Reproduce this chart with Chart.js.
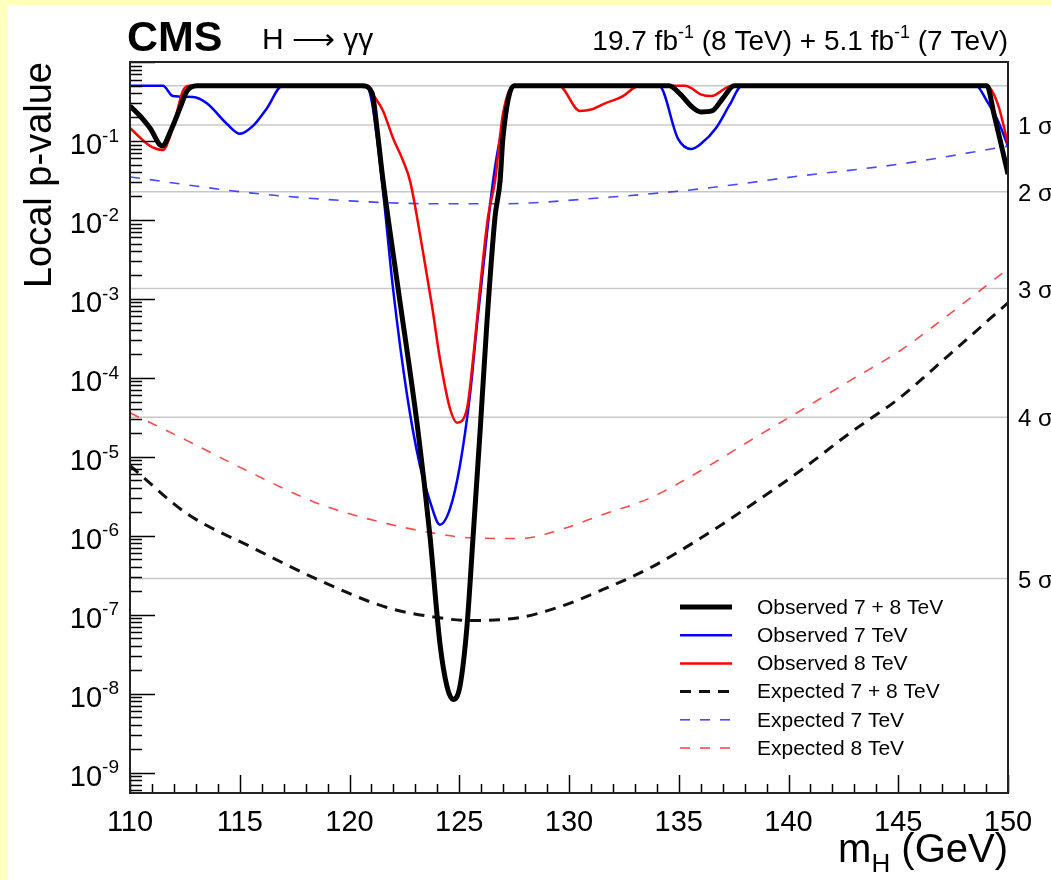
<!DOCTYPE html>
<html>
<head>
<meta charset="utf-8">
<script src="https://cdn.jsdelivr.net/npm/chart.js@4.4.1/dist/chart.umd.min.js"></script>
<style>
html, body { margin: 0; padding: 0; width: 1051px; height: 880px; overflow: hidden; background: #ffffc0; }
#wrap { position: absolute; left: 8px; top: 5px; width: 1043px; height: 875px; background: #fff; }
canvas { display: block; }
</style>
</head>
<body>
<div id="wrap"><canvas id="pvalChart" width="1043" height="875"></canvas></div>
<script>
// ---- data (mH in GeV, local p-value) ----
const obs78Mass = [110, 110.46, 110.91, 111.46, 111.91, 112.28, 112.6, 113.05, 120.57, 121.03, 121.25, 121.53, 122.21, 123.12, 123.67, 124.12, 124.44, 124.72, 125.03, 125.35, 125.63, 125.95, 126.26, 126.63, 126.86, 126.99, 127.49, 134.56, 135.06, 135.56, 136.01, 136.51, 137.02, 137.52, 149.04, 149.36, 149.68, 150];
const obs78P = [0.277, 0.207, 0.146, 0.0865, 0.146, 0.262, 0.43, 0.5, 0.5, 0.405, 0.146, 0.0312, 1.38e-3, 2.13e-5, 9.6e-7, 4.3e-8, 1.23e-8, 8.4e-9, 1.23e-8, 7.0e-8, 9.7e-7, 2.1e-5, 4.97e-4, 0.0109, 0.031, 0.109, 0.5, 0.5, 0.394, 0.277, 0.233, 0.24, 0.35, 0.5, 0.5, 0.22, 0.092, 0.038];

const obs7Mass = [110, 111.5, 111.96, 112.87, 113.5, 114.42, 115.01, 115.6, 116.24, 116.95, 120.75, 121.03, 121.48, 121.98, 122.62, 123.21, 123.67, 124.12, 124.58, 125.03, 125.49, 125.81, 126.26, 126.54, 126.9, 127.49, 134.1, 134.97, 135.56, 136.01, 136.7, 137.33, 137.88, 148.54, 149.04, 149.54, 150];
const obs7P = [0.5, 0.5, 0.37, 0.36, 0.30, 0.164, 0.123, 0.155, 0.26, 0.5, 0.5, 0.3, 0.031, 1.38e-3, 6.1e-5, 7.7e-6, 2.7e-6, 1.38e-6, 2.2e-6, 7.7e-6, 6.1e-5, 4.8e-4, 6.7e-3, 0.031, 0.123, 0.5, 0.5, 0.106, 0.079, 0.092, 0.146, 0.29, 0.5, 0.5, 0.32, 0.18, 0.086];

const obs8Mass = [110, 110.91, 111.5, 111.91, 112.41, 112.7, 120.85, 121.07, 121.53, 121.98, 122.44, 122.76, 123.35, 123.76, 124.12, 124.58, 124.9, 125.35, 125.63, 125.95, 126.31, 126.63, 126.99, 127.49, 129.54, 130.5, 131.0, 131.64, 132.46, 132.96, 133.2, 135.3, 135.56, 136.0, 136.5, 137.15, 137.4, 149.04, 149.54, 150];
const obs8P = [0.146, 0.0865, 0.077, 0.134, 0.43, 0.5, 0.5, 0.39, 0.24, 0.109, 0.056, 0.031, 3.9e-3, 8.1e-4, 1.74e-4, 4.05e-5, 2.7e-5, 4.05e-5, 1.74e-4, 1.38e-3, 0.0109, 0.031, 0.22, 0.5, 0.5, 0.24, 0.25, 0.30, 0.37, 0.47, 0.5, 0.5, 0.47, 0.39, 0.37, 0.47, 0.5, 0.5, 0.29, 0.092];

const expMass = [110, 112.6, 115.6, 118.66, 121.71, 123.99, 125.49, 127.77, 129.59, 131.41, 133.69, 135.97, 138.25, 140.52, 142.8, 145.08, 147.36, 150];
const exp78P = [7.7e-6, 1.9e-6, 7.0e-7, 2.7e-7, 1.23e-7, 9.2e-8, 8.4e-8, 9.2e-8, 1.26e-7, 2.0e-7, 3.9e-7, 9.2e-7, 2.4e-6, 6.6e-6, 2.0e-5, 5.6e-5, 2.0e-4, 8.9e-4];
const exp8P = [3.6e-5, 1.6e-5, 6.1e-6, 2.5e-6, 1.42e-6, 1.06e-6, 9.4e-7, 9.2e-7, 1.19e-6, 1.8e-6, 3.0e-6, 6.6e-6, 1.6e-5, 3.8e-5, 9.2e-5, 2.2e-4, 6.5e-4, 2.4e-3];

const exp7Mass = [110, 115.47, 120.02, 124.12, 126.86, 131.41, 135.97, 140.52, 145.08, 150];
const exp7P = [0.035, 0.022, 0.0174, 0.016, 0.016, 0.019, 0.0247, 0.036, 0.051, 0.086];

// significance reference lines (0..5 sigma, one-sided)
const sigmaP = [0.5, 0.1587, 0.02275, 1.35e-3, 3.167e-5, 2.867e-7];
const sigmaLabels = ['', '1 σ', '2 σ', '3 σ', '4 σ', '5 σ'];

const xTicks = [110, 115, 120, 125, 130, 135, 140, 145, 150];
const yTickExps = [-1, -2, -3, -4, -5, -6, -7, -8, -9];
const legendNames = ['Observed 7 + 8 TeV', 'Observed 7 TeV', 'Observed 8 TeV', 'Expected 7 + 8 TeV', 'Expected 7 TeV', 'Expected 8 TeV'];

const FONT = "'Liberation Sans', Arial, Helvetica, sans-serif";

function pts(m, p) { return m.map((v, i) => ({ x: v, y: p[i] })); }

// draws text runs with super/subscripts: segs = [[text, 0|1|-1], ...]
function drawRun(ctx, segs, x, y, size, align, weight) {
  const w = weight || '';
  const sub = Math.round(size * 0.64);
  const widths = segs.map(s => { ctx.font = w + ' ' + (s[1] ? sub : size) + 'px ' + FONT; return ctx.measureText(s[0]).width; });
  const total = widths.reduce((a, b) => a + b, 0);
  let cx = align === 'right' ? x - total : align === 'center' ? x - total / 2 : x;
  ctx.textAlign = 'left';
  ctx.textBaseline = 'alphabetic';
  segs.forEach((s, i) => {
    ctx.font = w + ' ' + (s[1] ? sub : size) + 'px ' + FONT;
    const dy = s[1] === 1 ? -size * 0.42 : s[1] === -1 ? size * 0.25 : 0;
    ctx.fillText(s[0], cx, y + dy);
    cx += widths[i];
  });
}

const rootStyle = {
  id: 'rootStyle',
  afterDraw(chart) {
    const ctx = chart.ctx;
    const a = chart.chartArea;
    const xs = chart.scales.x, ys = chart.scales.y;
    ctx.save();
    ctx.fillStyle = '#000';
    ctx.strokeStyle = '#000';

    // ticks (inside the frame, ROOT style)
    ctx.lineWidth = 1.5;
    ctx.beginPath();
    for (let m = 110; m <= 150; m++) {
      const px = Math.round(xs.getPixelForValue(m)) + 0.5;
      const len = m % 5 === 0 ? 18 : 9;
      ctx.moveTo(px, a.bottom);
      ctx.lineTo(px, a.bottom - len);
    }
    for (let e = -10; e <= 0; e++) {
      for (let k = 1; k <= 9; k++) {
        const v = k * Math.pow(10, e);
        if (v < ys.min || v > ys.max) continue;
        const py = Math.round(ys.getPixelForValue(v)) + 0.5;
        const len = k === 1 ? 25 : 12;
        ctx.moveTo(a.left, py);
        ctx.lineTo(a.left + len, py);
      }
    }
    ctx.stroke();

    // frame
    ctx.lineWidth = 2;
    ctx.strokeStyle = '#222';
    ctx.strokeRect(a.left, a.top, a.right - a.left, a.bottom - a.top);

    // x tick labels
    xTicks.forEach(t => drawRun(ctx, [[String(t), 0]], xs.getPixelForValue(t), a.bottom + 38, 29, 'center'));
    // y tick labels
    yTickExps.forEach(e => {
      const py = ys.getPixelForValue(Math.pow(10, e));
      drawRun(ctx, [['10', 0], [String(e), 1]], a.left - 11, py + 13, 29, 'right');
    });

    // axis titles
    drawRun(ctx, [['m', 0], ['H', -1], [' (GeV)', 0]], a.right, a.bottom + 69, 40, 'right');
    ctx.save();
    ctx.translate(43, a.top);
    ctx.rotate(-Math.PI / 2);
    ctx.font = '38px ' + FONT;
    ctx.textAlign = 'right';
    ctx.textBaseline = 'alphabetic';
    ctx.fillText('Local p-value', 0, 0);
    ctx.restore();

    // sigma labels
    sigmaP.forEach((p, i) => {
      if (!sigmaLabels[i]) return;
      const py = ys.getPixelForValue(p);
      drawRun(ctx, [[sigmaLabels[i], 0]], a.right + 10, py + 9, 24, 'left');
    });

    // header
    drawRun(ctx, [['CMS', 0]], 119, 46, 43, 'left', 'bold');
    drawRun(ctx, [['H ⟶ γγ', 0]], 254, 44, 30, 'left');
    drawRun(ctx, [['19.7 fb', 0], ['-1', 1], [' (8 TeV) + 5.1 fb', 0], ['-1', 1], [' (7 TeV)', 0]], a.right, 45, 28, 'right');

    // legend
    const rowY0 = 602, rowStep = 28.2;
    chart.data.datasets.filter(d => d.inLegend).forEach((d, i) => {
      const y = rowY0 + i * rowStep;
      ctx.save();
      ctx.strokeStyle = d.borderColor;
      ctx.lineWidth = d.borderWidth;
      ctx.setLineDash(d.borderDash || []);
      ctx.beginPath();
      ctx.moveTo(672, y);
      ctx.lineTo(724, y);
      ctx.stroke();
      ctx.restore();
      ctx.font = '21px ' + FONT;
      ctx.textAlign = 'left';
      ctx.textBaseline = 'middle';
      ctx.fillStyle = '#000';
      ctx.fillText(d.label, 749, y + 1);
    });
    ctx.restore();
  }
};

const sigmaSets = sigmaP.map((p, i) => ({
  label: 'sigma' + i,
  data: pts([110, 150], [p, p]),
  borderColor: '#c8c8c8',
  borderWidth: 1.5,
  order: 20,
  tension: 0
}));

const curveSets = [
  { label: legendNames[0], data: pts(obs78Mass, obs78P), borderColor: '#000000', borderWidth: 5, order: 0 },
  { label: legendNames[1], data: pts(obs7Mass, obs7P), borderColor: '#0000ff', borderWidth: 2.5, order: 2 },
  { label: legendNames[2], data: pts(obs8Mass, obs8P), borderColor: '#ff0000', borderWidth: 2.5, order: 1 },
  { label: legendNames[3], data: pts(expMass, exp78P), borderColor: '#111111', borderWidth: 3, borderDash: [11, 8], order: 3 },
  { label: legendNames[4], data: pts(exp7Mass, exp7P), borderColor: 'rgba(40,40,255,0.85)', borderWidth: 1.6, borderDash: [10, 10], order: 4 },
  { label: legendNames[5], data: pts(expMass, exp8P), borderColor: 'rgba(255,40,40,0.85)', borderWidth: 1.6, borderDash: [10, 10], order: 5 }
].map(d => Object.assign(d, { inLegend: true, cubicInterpolationMode: 'monotone', fill: false }));

const ctx = document.getElementById('pvalChart').getContext('2d');
const pvalChart = new Chart(ctx, {
  type: 'line',
  data: { datasets: curveSets.concat(sigmaSets) },
  options: {
    responsive: false,
    animation: false,
    devicePixelRatio: 1,
    parsing: true,
    layout: { padding: { left: 122, top: 57, right: 43, bottom: 87 } },
    elements: { point: { radius: 0 }, line: { borderCapStyle: 'butt', borderJoinStyle: 'round' } },
    plugins: { legend: { display: false }, tooltip: { enabled: false } },
    scales: {
      x: { type: 'linear', min: 110, max: 150, display: false },
      y: { type: 'logarithmic', min: 5.5e-10, max: 1, display: false }
    }
  },
  plugins: [rootStyle]
});
</script>
</body>
</html>
